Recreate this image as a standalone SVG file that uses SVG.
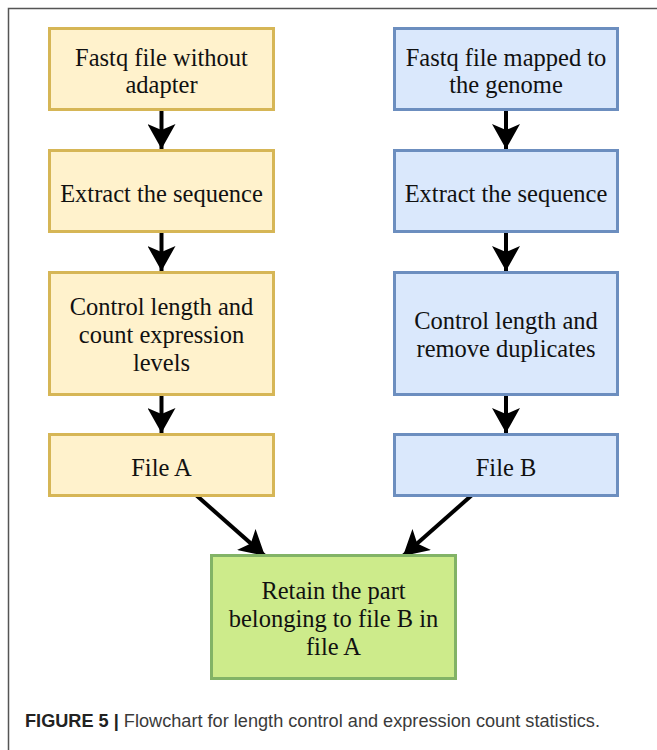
<svg xmlns="http://www.w3.org/2000/svg" width="657" height="750" viewBox="0 0 657 750">
<style>
.y{fill:#fff2cc;stroke:#d6b656;stroke-width:3}
.b{fill:#dae8fc;stroke:#6c8ebf;stroke-width:3}
.g{fill:#cdeb8b;stroke:#82b366;stroke-width:3}
.t{font-family:"Liberation Serif","Times New Roman",serif;font-size:24.5px;fill:#111;text-anchor:middle}
.c{stroke:#000;stroke-width:4;fill:none}
.cap{font-family:"Liberation Sans",Arial,sans-serif;font-size:17.5px;fill:#3a3a3a}
</style>
<defs>
<marker id="ah" viewBox="0 0 25 28" refX="25" refY="14" markerWidth="25" markerHeight="28" markerUnits="userSpaceOnUse" orient="auto">
<path d="M25,14 L0,0 L6,14 L0,28 Z" fill="#000"/>
</marker>
</defs>
<rect width="657" height="750" fill="#fff"/>
<path d="M8.5,750 V8.5 H657" fill="none" stroke="#555" stroke-width="1.5"/>
<g id="connectors">
<path class="c" d="M161.5,111 V149" marker-end="url(#ah)"/>
<path class="c" d="M161.5,233 V271" marker-end="url(#ah)"/>
<path class="c" d="M161.5,396 V433" marker-end="url(#ah)"/>
<path class="c" d="M506,111 V149" marker-end="url(#ah)"/>
<path class="c" d="M506,233 V271" marker-end="url(#ah)"/>
<path class="c" d="M506,396 V433" marker-end="url(#ah)"/>
<path class="c" d="M196,495 L265,556" marker-end="url(#ah)"/>
<path class="c" d="M472,495 L403,556" marker-end="url(#ah)"/>
</g>
<g id="n1"><rect class="y" x="49.5" y="28.5" width="224" height="81"/><text class="t" x="161.5" y="66">Fastq file without</text><text class="t" x="161.5" y="93">adapter</text></g>
<g id="n2"><rect class="y" x="49.5" y="150.5" width="224" height="81"/><text class="t" x="161.5" y="202">Extract the sequence</text></g>
<g id="n3"><rect class="y" x="49.5" y="272.5" width="224" height="122"/><text class="t" x="161.5" y="315">Control length and</text><text class="t" x="161.5" y="343">count expression</text><text class="t" x="161.5" y="371">levels</text></g>
<g id="n4"><rect class="y" x="49.5" y="434.5" width="224" height="61"/><text class="t" x="161.5" y="476">File A</text></g>
<g id="n5"><rect class="b" x="394.5" y="28.5" width="223" height="81"/><text class="t" x="506" y="66">Fastq file mapped to</text><text class="t" x="506" y="93">the genome</text></g>
<g id="n6"><rect class="b" x="394.5" y="150.5" width="223" height="81"/><text class="t" x="506" y="202">Extract the sequence</text></g>
<g id="n7"><rect class="b" x="394.5" y="272.5" width="223" height="122"/><text class="t" x="506" y="329">Control length and</text><text class="t" x="506" y="357">remove duplicates</text></g>
<g id="n8"><rect class="b" x="394.5" y="434.5" width="223" height="61"/><text class="t" x="506" y="476">File B</text></g>
<g id="n9"><rect class="g" x="211.5" y="555.5" width="244" height="123"/><text class="t" x="333.5" y="599">Retain the part</text><text class="t" x="333.5" y="627">belonging to file B in</text><text class="t" x="333.5" y="655">file A</text></g>
<text class="cap" x="25" y="727" textLength="575" lengthAdjust="spacingAndGlyphs"><tspan font-weight="bold" fill="#222">FIGURE 5 | </tspan>Flowchart for length control and expression count statistics.</text>
</svg>
